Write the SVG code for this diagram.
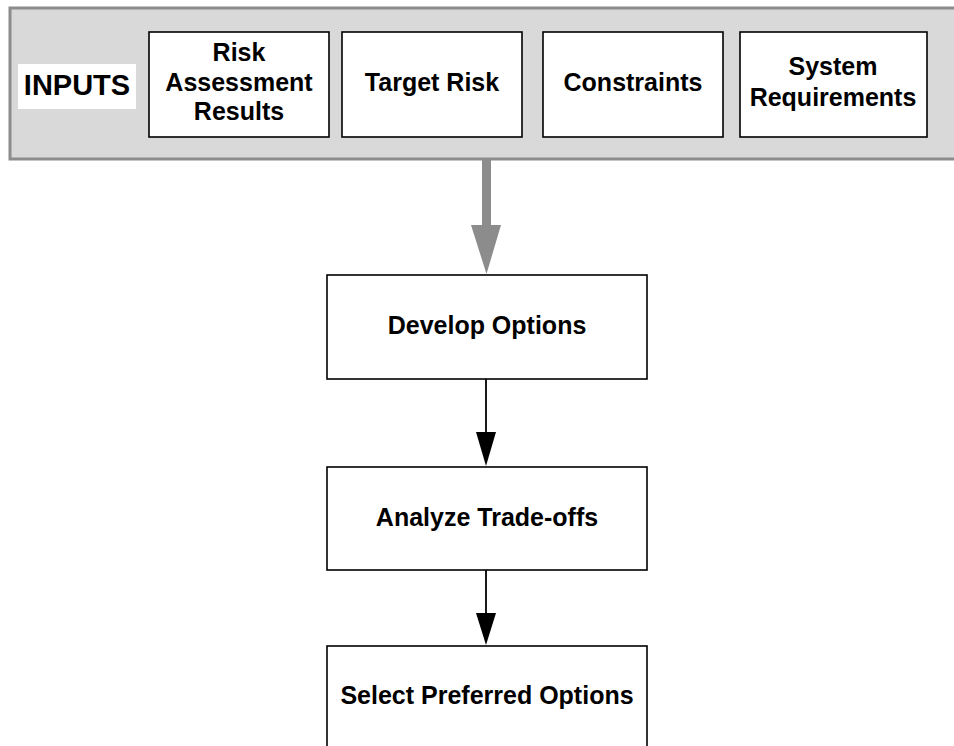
<svg xmlns="http://www.w3.org/2000/svg" width="954" height="746" viewBox="0 0 954 746">
  <style>
    .panel { fill: #d9d9d9; stroke: #8c8c8c; stroke-width: 3; }
    .box { fill: #ffffff; stroke: #000000; stroke-width: 1.6; }
    .lbl { font-family: "Liberation Sans", Arial, sans-serif; font-weight: bold; font-size: 25px; fill: #000000; text-anchor: middle; }
    .big { font-size: 29px; }
    .flow { stroke: #000000; stroke-width: 1.8; fill: none; }
    .feed { stroke: #8c8c8c; stroke-width: 9; fill: none; }
  </style>

  <!-- inputs band -->
  <g id="inputs-panel">
    <rect class="panel" x="10" y="8" width="960" height="151"/>
    <rect x="18" y="64" width="118" height="45" fill="#ffffff"/>
    <text class="lbl big" x="77" y="95">INPUTS</text>
  </g>

  <g id="risk-assessment-results">
    <rect class="box" x="149" y="32" width="180" height="105"/>
    <text class="lbl" x="239" y="61">Risk</text>
    <text class="lbl" x="239" y="91">Assessment</text>
    <text class="lbl" x="239" y="120">Results</text>
  </g>

  <g id="target-risk">
    <rect class="box" x="342" y="32" width="180" height="105"/>
    <text class="lbl" x="432" y="91">Target Risk</text>
  </g>

  <g id="constraints">
    <rect class="box" x="543" y="32" width="180" height="105"/>
    <text class="lbl" x="633" y="91">Constraints</text>
  </g>

  <g id="system-requirements">
    <rect class="box" x="740" y="32" width="187" height="105"/>
    <text class="lbl" x="833" y="75">System</text>
    <text class="lbl" x="833" y="106">Requirements</text>
  </g>

  <!-- process steps -->
  <g id="develop-options">
    <rect class="box" x="327" y="275" width="320" height="104"/>
    <text class="lbl" x="487" y="334">Develop Options</text>
  </g>

  <g id="analyze-trade-offs">
    <rect class="box" x="327" y="467" width="320" height="103"/>
    <text class="lbl" x="487" y="526">Analyze Trade-offs</text>
  </g>

  <g id="select-preferred-options">
    <rect class="box" x="327" y="646" width="320" height="120"/>
    <text class="lbl" x="487" y="704">Select Preferred Options</text>
  </g>

  <!-- connectors -->
  <g id="connectors">
    <line class="feed" x1="486.5" y1="160" x2="486.5" y2="227"/>
    <polygon points="471,225 501,225 486.5,274" fill="#8c8c8c"/>

    <line class="flow" x1="486" y1="379" x2="486" y2="434"/>
    <polygon points="476,432 496,432 486,466" fill="#000000"/>

    <line class="flow" x1="486" y1="570" x2="486" y2="615"/>
    <polygon points="476,613 496,613 486,645" fill="#000000"/>
  </g>
</svg>
